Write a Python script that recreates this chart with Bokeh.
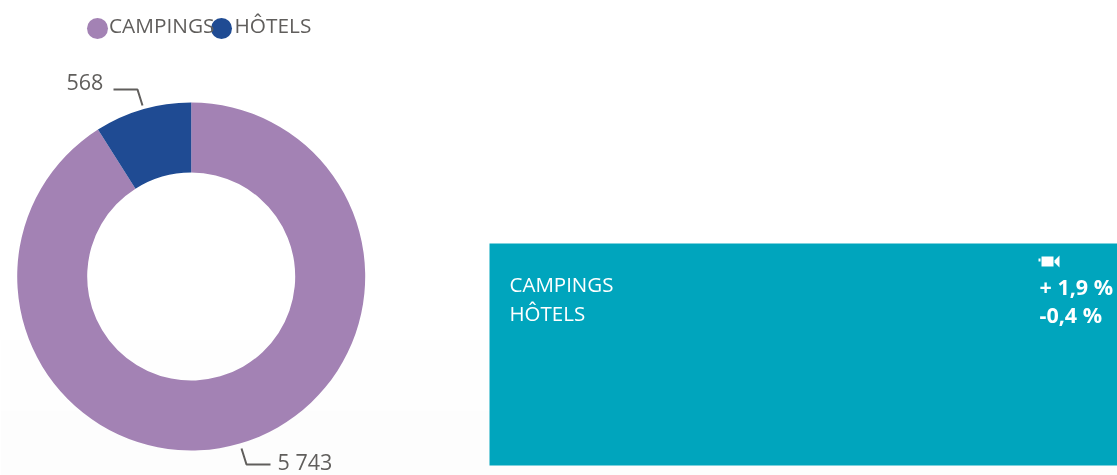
import math
from bokeh.plotting import figure
from bokeh.models import ColumnDataSource, Range1d
from bokeh.core.properties import value
from bokeh.embed import file_html
from bokeh.resources import INLINE

categories = ["CAMPINGS", "HÔTELS"]
values = [5743, 568]
value_labels = ["5 743", "568"]
changes = ["+ 1,9 %", "-0,4 %"]
colors = ["#A382B4", "#1F4B93"]

W, H = 1117, 475
FONT = value("Open Sans")
GREY = "#605E5C"
TEAL = "#00A5BD"

def Y(y):
    return H - y

p = figure(width=W, height=H, x_range=Range1d(0, W), y_range=Range1d(0, H),
           output_backend="svg", toolbar_location=None, min_border=0,
           x_axis_location=None, y_axis_location=None, outline_line_color=None,
           background_fill_color="#ffffff", border_fill_color="#ffffff",
           styles={"position": "fixed", "left": "0px", "top": "0px"})
p.grid.visible = False

# faint off-white wash at the bottom of the page, in very soft steps
for edge, shade in [(340, "#FEFEFE"), (410, "#FDFDFD")]:
    p.quad(left=[0], right=[W], bottom=[0], top=[Y(edge)], color=shade, line_color=None)

# donut, clockwise from 12 o'clock
total = sum(values)
ends, starts = [], []
a = math.pi / 2
for v in values:
    b = a - 2 * math.pi * v / total
    starts.append(b)
    ends.append(a)
    a = b
src = ColumnDataSource(dict(start=starts, end=ends, color=colors))
p.annular_wedge(x=190.7, y=Y(276), inner_radius=104, outer_radius=174,
                start_angle="start", end_angle="end", color="color", line_color=None, source=src)

# legend
p.scatter(x=[97, 221], y=[Y(28), Y(28)], size=21, color=colors, line_color=None)
p.text(x=[108.5, 234], y=[Y(24), Y(24)], text=categories, text_font=FONT, text_font_size="20.8px",
       text_color=GREY, text_baseline="middle")

# leader lines and value labels
p.line([113, 137, 142], [Y(89), Y(89), Y(105)], line_color=GREY, line_width=2)
p.line([241, 246, 270], [Y(448), Y(464), Y(464)], line_color=GREY, line_width=2)
p.text(x=[277, 66], y=[Y(461), Y(81)], text=value_labels, text_font=FONT, text_font_size="21.5px",
       text_color=GREY, text_baseline="middle")

# teal panel
p.quad(left=[489], right=[W], bottom=[Y(465)], top=[Y(243)], color=TEAL, line_color=None)
p.text(x=[509, 509], y=[Y(283), Y(312)], text=categories, text_font=FONT, text_font_size="20.5px",
       text_color="#ffffff", text_baseline="middle")
p.text(x=[1039, 1039], y=[Y(286), Y(314)], text=changes, text_font=FONT, text_font_size="21.5px",
       text_font_style="bold", text_color="#ffffff", text_baseline="middle")
# camera icon
p.quad(left=[1041], right=[1053], bottom=[Y(266)], top=[Y(256)], color="#ffffff", line_color=None)
p.quad(left=[1038], right=[1040], bottom=[Y(261)], top=[Y(258)], color="#ffffff", line_color=None)
p.patch([1054, 1059, 1059, 1054], [Y(260), Y(255), Y(267), Y(262)], color="#ffffff", line_color=None)

open("out.html", "w").write(file_html(p, INLINE))
